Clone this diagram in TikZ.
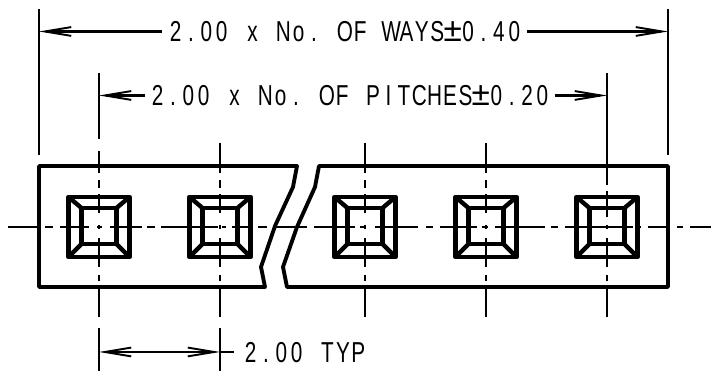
\documentclass[tikz,border=0pt]{standalone}
\usepackage{fontspec}
\usetikzlibrary{arrows.meta}
\newfontfamily\dimfont[FakeStretch=0.72]{Liberation Sans}
\newfontfamily\plusfont{Liberation Sans}
\newlength{\charpitch}
\setlength{\charpitch}{0.308cm}
\makeatletter
\newcommand{\spaced}[1]{\@tfor\nextchar:=#1\do{\makebox[\charpitch][c]{\nextchar}}}
\makeatother
\newcommand{\plusminus}{\makebox[0pt][c]{\plusfont\fontsize{19pt}{20pt}\selectfont ±}}
\tikzset{thinline/.style = {line width = 1.15pt}}
\tikzset{thickline/.style = {line width = 2.2pt, line join = round}}
\tikzset{windowline/.style = {line width = 2.5pt, line join = round}}
\tikzset{barb/.tip = {Straight Barb[length=15pt, width=5pt, line width=1.1pt]}}
\tikzset{dimtext/.style = {font = \dimfont\fontsize{16.4pt}{18pt}\selectfont, inner sep = 0, anchor = west}}

\begin{document}
\begin{tikzpicture}[x=0.02cm, y=-0.02cm]
      \useasboundingbox (0, 0) rectangle (711, 371);

      \node [dimtext] (waystext) at (167.5, 31.5) {\spaced{2.00~x~No.~OF~WAYS\plusminus 0.40}};
      \node [dimtext] (pitchtext) at (149.5, 95.5) {\spaced{2.00~x~No.~OF~PITCHES\plusminus 0.20}};
      \node [dimtext] (typtext) at (242.5, 353) {\spaced{2.00~TYP}};

      \coordinate (waysleft) at (39, 31.5);
      \coordinate (waysright) at (668, 31.5);
      \coordinate (pitchleft) at (99, 95.5);
      \coordinate (pitchright) at (607, 95.5);
      \coordinate (typleft) at (99, 352);
      \coordinate (typright) at (220, 352);
      \coordinate (typend) at (234, 352);

      % extension lines
      \draw [thinline] (39, 9) -- (39, 155);
      \draw [thinline] (668, 9) -- (668, 155);
      \draw [thinline] (99, 73) -- (99, 139);
      \draw [thinline] (99, 328) -- (99, 371);
      \draw [thinline] (220, 328) -- (220, 371);

      % dimension arrows
      \draw [thinline, -barb] (162, 31.5) -- (waysleft);
      \draw [thinline, -barb] (527, 31.5) -- (waysright);
      \draw [thinline, -barb] (145, 95.5) -- (pitchleft);
      \draw [thinline, -barb] (555, 95.5) -- (pitchright);
      \draw [thinline, barb-barb] (typleft) -- (typright);
      \draw [thinline] (typright) -- (typend);

      % centre lines
      \foreach \a/\b in {8/38, 45/53, 60/89, 97/102, 110/142, 147/155, 161/218,
                         222/226, 232/250, 258/267, 273/307, 314/355, 360/366,
                         375/418, 426/433, 440/477, 482/488, 495/545, 551/558,
                         565/633, 637/641, 648/670, 677/683, 690/711}
        \draw [thinline] (\a, 227) -- (\b, 227);
      \foreach \cx in {99, 220, 365, 486, 607} {
        \foreach \a/\b in {225/229, 238/267, 275/281, 288/317}
          \draw [thinline] (\cx, \a) -- (\cx, \b);
      }
      \foreach \cx in {99, 220, 365, 486} {
        \draw [thinline] (\cx, 180) -- (\cx, 188);
        \draw [thinline] (\cx, 194) -- (\cx, 213);
      }
      \draw [thinline] (99, 151) -- (99, 173);
      \foreach \cx in {220, 365, 486}
        \draw [thinline] (\cx, 143) -- (\cx, 173);
      \draw [thinline] (607, 73) -- (607, 185);
      \draw [thinline] (607, 191) -- (607, 217);

      % strip with break
      \draw [thickline] (297, 166) -- (39, 166) -- (39, 287) -- (265, 287)
        -- (261, 267) -- (275, 226) -- (293, 187) -- cycle;
      \draw [thickline] (319, 166) -- (668, 166) -- (668, 287) -- (287, 287)
        -- (283, 267) -- (297, 227) -- (315, 187) -- cycle;

      % contact windows
      \foreach \cx in {99, 220, 365, 486, 607} {
        \draw [windowline] (\cx - 30.5, 197) rectangle (\cx + 30.5, 257);
        \draw [windowline] (\cx - 17.5, 208) rectangle (\cx + 17.5, 244);
        \draw [windowline] (\cx - 30.5, 197) -- (\cx - 17.5, 208);
        \draw [windowline] (\cx + 30.5, 197) -- (\cx + 17.5, 208);
        \draw [windowline] (\cx - 30.5, 257) -- (\cx - 17.5, 244);
        \draw [windowline] (\cx + 30.5, 257) -- (\cx + 17.5, 244);
      }
    \end{tikzpicture}
\end{document}
